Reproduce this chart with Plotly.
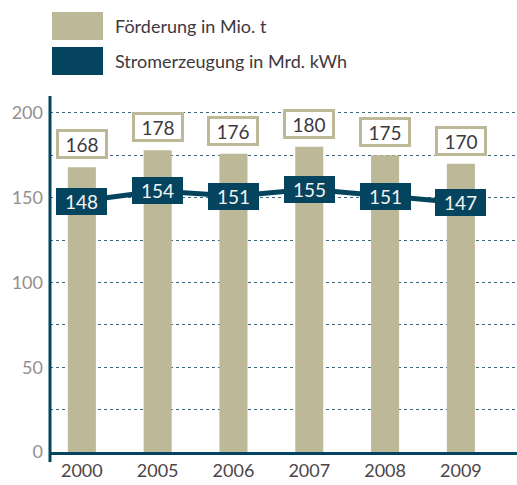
"""Steinkohle: Förderung und Stromerzeugung, 2000-2009."""

import plotly.graph_objects as go

years = ["2000", "2005", "2006", "2007", "2008", "2009"]
foerderung = [168, 178, 176, 180, 175, 170]        # Mio. t
stromerzeugung = [148, 154, 151, 155, 151, 147]     # Mrd. kWh
legend_labels = ["Förderung in Mio. t", "Stromerzeugung in Mrd. kWh"]

TAN = "#bdb898"
NAVY = "#05445f"
TEXT = "#3e3840"
FONT = "Lato, 'Open Sans', sans-serif"

W, H = 517, 485
L, R, T, B = 50, 0, 96, 33


def px_x(px):
    return (px - L) / (W - L - R)


def px_y(py):
    return (H - B - py) / (H - T - B)


fig = go.Figure()
fig.add_trace(go.Bar(
    x=years, y=foerderung, marker={"color": TAN, "line": {"width": 0}},
    width=0.37, name=legend_labels[0], hoverinfo="x+y",
))
fig.add_trace(go.Scatter(
    x=years, y=stromerzeugung, mode="lines", name=legend_labels[1],
    line={"color": NAVY, "width": 5},
))

# category axis: annotations are placed by category index
annotations = []
for i, v in enumerate(foerderung):
    annotations.append(dict(
        x=i, y=v, text=str(v), showarrow=False, yanchor="bottom", yshift=8,
        bgcolor="white", bordercolor=TAN, borderwidth=3, borderpad=1,
        width=44, height=22, font={"family": FONT, "size": 19, "color": TEXT},
    ))
for i, v in enumerate(stromerzeugung):
    annotations.append(dict(
        x=i, y=v, text=str(v), showarrow=False,
        bgcolor=NAVY, borderwidth=0, borderpad=2,
        width=47, height=23, font={"family": FONT, "size": 19, "color": "#f4f4f0"},
    ))

# hand-drawn legend: large colour blocks with text beside them
shapes = []
for i, (label, color) in enumerate(zip(legend_labels, [TAN, NAVY])):
    top = 12 + i * 35
    shapes.append(dict(
        type="rect", xref="paper", yref="paper",
        x0=px_x(52), x1=px_x(103), y0=px_y(top + 28), y1=px_y(top),
        fillcolor=color, line={"width": 0}, layer="above",
    ))
    annotations.append(dict(
        xref="paper", yref="paper", x=px_x(113), y=px_y(top + 14),
        xanchor="left", yanchor="middle", text=label, showarrow=False,
        font={"family": FONT, "size": 18, "color": TEXT},
    ))

# y axis line runs slightly below the baseline
shapes.append(dict(
    type="line", xref="paper", yref="paper", x0=0, x1=0,
    y0=px_y(462), y1=1, line={"color": NAVY, "width": 3}, layer="above",
))

fig.update_layout(
    width=W, height=H,
    margin={"l": L, "r": R, "t": T, "b": B, "pad": 0, "autoexpand": False},
    plot_bgcolor="white", paper_bgcolor="white",
    showlegend=False,
    font={"family": FONT},
    annotations=annotations,
    shapes=shapes,
    xaxis={
        "type": "category", "range": [-0.42, 5.74], "automargin": False,
        "showline": True, "linecolor": NAVY, "linewidth": 3,
        "showgrid": False, "ticks": "",
        "tickfont": {"size": 18, "color": "#4d4548"},
    },
    yaxis={
        "range": [0, 210], "dtick": 50, "showline": False, "automargin": False,
        "showgrid": True, "gridcolor": "#3a6a82", "griddash": "dot", "gridwidth": 1,
        "zeroline": False, "ticks": "",
        "ticklabelstandoff": 6,
        "tickfont": {"size": 18, "color": "#958e8e"},
        "minor": {"dtick": 25, "showgrid": True, "gridcolor": "#3a6a82",
                  "griddash": "dot", "gridwidth": 1},
    },
)

# the page's default body margin would shift the figure by 8px
fig.write_html(
    "out.html",
    config={"displayModeBar": False},
    post_script="document.body.style.margin='0';",
)
